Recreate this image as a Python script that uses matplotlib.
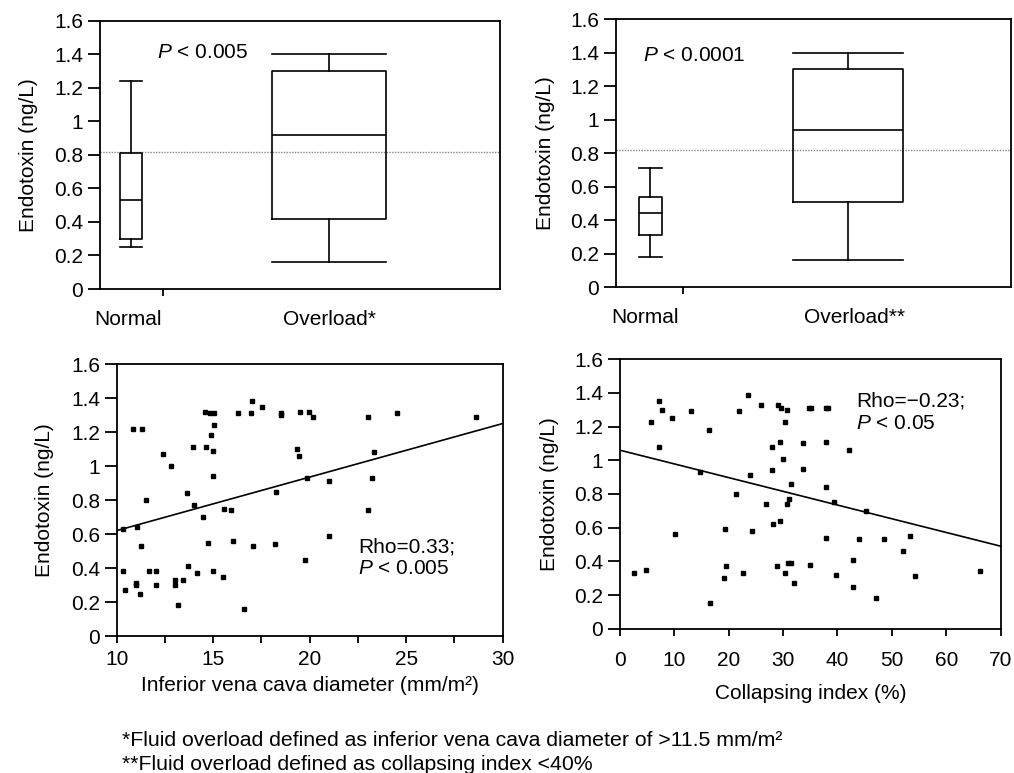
import numpy as np
import matplotlib
matplotlib.use("Agg")
import matplotlib.pyplot as plt

plt.rcParams["font.family"] = ["Liberation Sans", "DejaVu Sans"]
plt.rcParams["font.size"] = 15
plt.rcParams["mathtext.fontset"] = "custom"
plt.rcParams["mathtext.rm"] = "Liberation Sans"
plt.rcParams["mathtext.it"] = "Liberation Sans:italic"
plt.rcParams["axes.linewidth"] = 1.3
plt.rcParams["xtick.major.width"] = 1.3
plt.rcParams["ytick.major.width"] = 1.3
plt.rcParams["xtick.minor.width"] = 1.3
plt.rcParams["xtick.major.size"] = 5
plt.rcParams["xtick.minor.size"] = 5
plt.rcParams["ytick.major.size"] = 8.5

# box plots: whisker low, Q1, median, Q3, whisker high
ivc_groups = ["Normal", "Overload*"]
ivc_box = [[0.25, 0.30, 0.53, 0.81, 1.24],
           [0.16, 0.42, 0.92, 1.30, 1.40]]
ci_groups = ["Normal", "Overload**"]
ci_box = [[0.18, 0.31, 0.44, 0.54, 0.71],
          [0.16, 0.51, 0.94, 1.30, 1.40]]
cutoff = 0.82
y_ticklabels = ["0", "0.2", "0.4", "0.6", "0.8", "1", "1.2", "1.4", "1.6"]

# scatter: inferior vena cava diameter vs endotoxin
ivc_x = [10.35, 10.45, 10.35, 10.83, 11.30, 10.98, 11.02, 11.07, 11.24, 11.21,
         11.50, 11.69, 12.04, 12.04, 12.42, 12.82, 13.02, 13.02, 13.20, 13.45,
         13.66, 13.68, 13.97, 14.01, 14.18, 14.49, 14.58, 14.63, 14.75, 14.84,
         14.87, 14.97, 14.97, 15.01, 15.04, 15.06, 15.53, 15.58, 15.91, 16.01,
         16.30, 16.60, 16.94, 17.03, 17.08, 17.51, 18.20, 18.26, 18.50, 18.50,
         19.33, 19.46, 19.50, 19.76, 19.84, 19.98, 20.15, 21.02, 21.02, 23.04,
         23.04, 23.21, 23.33, 24.51, 28.60]
ivc_y = [0.38, 0.27, 0.63, 1.22, 1.22, 0.31, 0.30, 0.64, 0.53, 0.25,
         0.80, 0.38, 0.38, 0.30, 1.07, 1.00, 0.33, 0.30, 0.18, 0.33,
         0.84, 0.41, 1.11, 0.77, 0.37, 0.70, 1.32, 1.11, 0.55, 1.31,
         1.18, 1.09, 0.94, 0.38, 1.31, 1.24, 0.35, 0.75, 0.74, 0.56,
         1.31, 0.16, 1.31, 1.38, 0.53, 1.35, 0.54, 0.85, 1.31, 1.30,
         1.10, 1.06, 1.32, 0.45, 0.93, 1.32, 1.29, 0.59, 0.91, 1.29,
         0.74, 0.93, 1.08, 1.31, 1.29]
ivc_fit_x = [10, 30]
ivc_fit_y = [0.62, 1.25]

# scatter: collapsing index vs endotoxin
ci_x = [2.6, 4.8, 5.7, 7.2, 7.8, 7.2, 9.5, 10.2, 13.0, 14.8,
        16.4, 16.5, 19.2, 19.4, 19.5, 21.4, 21.9, 22.7, 23.6, 24.0,
        24.2, 26.0, 26.8, 27.9, 28.0, 28.2, 28.9, 29.0, 29.4, 29.5,
        29.6, 29.9, 30.3, 30.4, 30.7, 30.8, 30.9, 31.1, 31.5, 31.4,
        32.0, 33.7, 33.7, 34.8, 35.2, 35.0, 37.9, 38.3, 37.9, 37.9,
        37.9, 39.4, 39.7, 42.1, 42.9, 42.9, 44.0, 45.2, 47.0, 48.6,
        52.1, 53.3, 54.2, 66.3]
ci_y = [0.33, 0.35, 1.23, 1.35, 1.30, 1.08, 1.25, 0.56, 1.29, 0.93,
        1.18, 0.15, 0.30, 0.59, 0.37, 0.80, 1.29, 0.33, 1.39, 0.91,
        0.58, 1.33, 0.74, 1.08, 0.94, 0.62, 0.37, 1.33, 0.64, 1.11,
        1.31, 1.01, 0.33, 1.23, 0.74, 1.30, 0.39, 0.77, 0.39, 0.86,
        0.27, 1.10, 0.95, 1.31, 1.31, 0.38, 1.31, 1.31, 1.11, 0.84,
        0.54, 0.75, 0.32, 1.06, 0.41, 0.25, 0.53, 0.70, 0.18, 0.53,
        0.46, 0.55, 0.31, 0.34]
ci_fit_x = [0, 70]
ci_fit_y = [1.06, 0.49]


def box_stats(rows, labels):
    return [{"whislo": r[0], "q1": r[1], "med": r[2], "q3": r[3], "whishi": r[4],
             "fliers": [], "label": lab} for r, lab in zip(rows, labels)]


def endotoxin_axis(ax, pad):
    ax.set_ylim(0, 1.6)
    ax.set_yticks(np.arange(0, 1.61, 0.2))
    ax.set_yticklabels(y_ticklabels)
    ax.set_ylabel("Endotoxin (ng/L)", labelpad=pad)


def draw_box(ax, rows, labels, positions, widths, label_pos, tick_pos, ptext, ptext_xy, pad):
    line = dict(color="black", linewidth=1.2)
    ax.bxp(box_stats(rows, labels), positions=positions, widths=widths,
           capwidths=widths, showfliers=False, boxprops=line, whiskerprops=line,
           capprops=line, medianprops=line)
    ax.axhline(cutoff, color="#888888", linestyle=(0, (1, 1)), linewidth=1.0, zorder=0)
    ax.set_xlim(0, 10)
    endotoxin_axis(ax, pad)
    ax.set_xticks(label_pos)
    ax.set_xticklabels(labels)
    ax.tick_params(axis="x", which="major", length=0, pad=15)
    ax.set_xticks([tick_pos], minor=True)
    ax.text(ptext_xy[0], ptext_xy[1], ptext, va="center", ha="left")


fig = plt.figure(figsize=(10.14, 7.73), dpi=100)

ax1 = fig.add_axes([0.0986, 0.6261, 0.3945, 0.3471])
draw_box(ax1, ivc_box, ivc_groups, [0.78, 5.72], [0.55, 2.85], [0.69, 5.74], 1.58,
         "$P$ < 0.005", (1.42, 1.41), 12)

ax2 = fig.add_axes([0.6075, 0.6287, 0.3895, 0.3467])
draw_box(ax2, ci_box, ci_groups, [0.87, 5.87], [0.58, 2.78], [0.73, 6.03], 1.70,
         "$P$ < 0.0001", (0.68, 1.385), 11)

ax3 = fig.add_axes([0.1151, 0.1772, 0.3807, 0.3519])
ax3.plot(ivc_x, ivc_y, "s", color="black", markersize=3.3)
ax3.plot(ivc_fit_x, ivc_fit_y, color="black", linewidth=1.2)
ax3.set_xlim(10, 30)
ax3.set_xticks([10, 15, 20, 25, 30])
ax3.set_xticks(np.arange(12.5, 30, 5), minor=True)
ax3.tick_params(axis="x", pad=5)
endotoxin_axis(ax3, 12)
ax3.set_xlabel("Inferior vena cava diameter (mm/m²)", labelpad=5)
ax3.text(22.5, 0.525, "Rho=0.33;", va="center", ha="left")
ax3.text(22.5, 0.40, "$P$ < 0.005", va="center", ha="left")

ax4 = fig.add_axes([0.6114, 0.1867, 0.3754, 0.3485])
ax4.plot(ci_x, ci_y, "s", color="black", markersize=3.3)
ax4.plot(ci_fit_x, ci_fit_y, color="black", linewidth=1.2)
ax4.set_xlim(0, 70)
ax4.set_xticks(np.arange(0, 71, 10))
ax4.tick_params(axis="x", pad=11)
endotoxin_axis(ax4, 11)
ax4.set_xlabel("Collapsing index (%)", labelpad=10)
ax4.text(43.4, 1.35, "Rho=\u22120.23;", va="center", ha="left")
ax4.text(43.4, 1.22, "$P$ < 0.05", va="center", ha="left")

fig.text(0.1203, 1 - 741 / 773, "*Fluid overload defined as inferior vena cava diameter of >11.5 mm/m²",
         va="center", ha="left", fontsize=15.3)
fig.text(0.1203, 1 - 765 / 773, "**Fluid overload defined as collapsing index <40%",
         va="center", ha="left", fontsize=15.3)

fig.savefig("out.png", dpi=100)
